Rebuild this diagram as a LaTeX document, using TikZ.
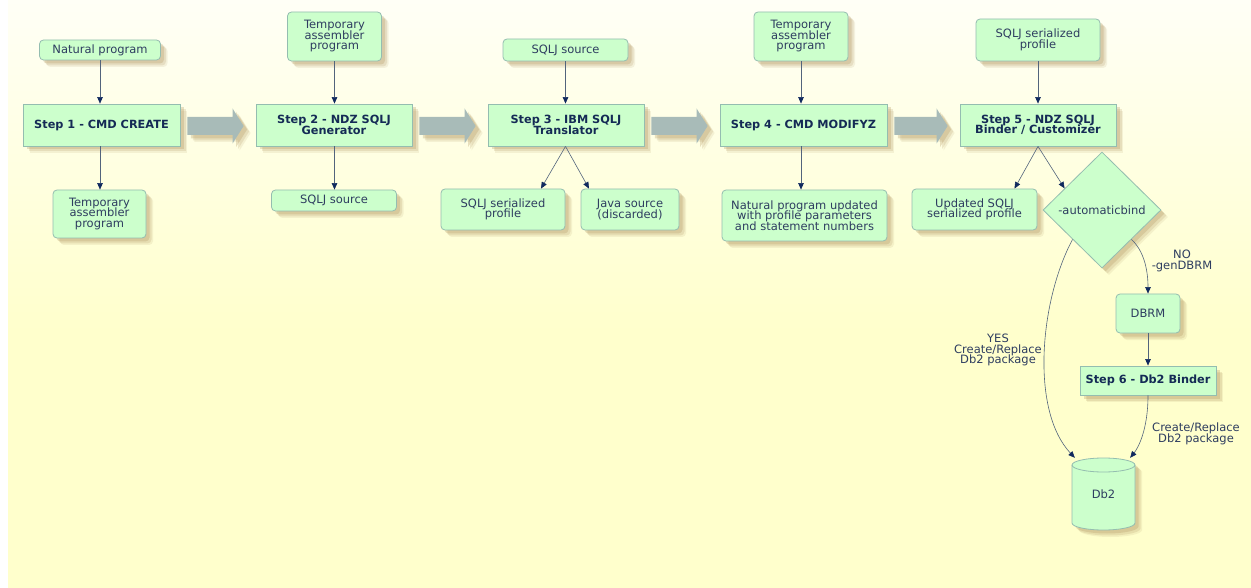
\documentclass[tikz,border=0pt]{standalone}
\usepackage{fontspec}
\setmainfont{DejaVu Sans}
\usetikzlibrary{shapes.geometric,shadows,calc,arrows.meta}
\setlength{\lineskiplimit}{-20pt}
\setlength{\lineskip}{0pt}

\definecolor{boxfill}{HTML}{CCFFCC}
\definecolor{boxdraw}{HTML}{94BDB0}
\definecolor{txt}{HTML}{2E3D60}
\definecolor{stxt}{HTML}{142A55}
\definecolor{lin}{HTML}{52647C}
\definecolor{tipc}{HTML}{10295E}
\definecolor{bigar}{HTML}{A8BBB8}
\definecolor{shad}{HTML}{B89F6A}
\definecolor{bgtop}{HTML}{FFFFF6}
\definecolor{bgbot}{HTML}{FFFFCC}

\newcommand\bigarrow[2]{%
  \path[fill=bigar,shd] let \p1=($(#1.east)+(7,-1)$), \p2=($(#2.west)+(-12,-1)$) in
    (\x1,\y1+9pt) -- (\x2-11pt,\y1+9pt) -- (\x2-11pt,\y1+17.5pt) -- (\x2,\y1)
    -- (\x2-11pt,\y1-17.5pt) -- (\x2-11pt,\y1-9pt) -- (\x1,\y1-9pt) -- cycle;}

\begin{document}
\begin{tikzpicture}[x=1pt,y=1pt,
  font=\fontsize{11.5}{10.5}\selectfont,
  shd/.style={
    drop shadow={shadow xshift=7pt,shadow yshift=-7pt,fill=shad,opacity=0.14},
    drop shadow={shadow xshift=5.5pt,shadow yshift=-5.5pt,fill=shad,opacity=0.22},
    drop shadow={shadow xshift=3.5pt,shadow yshift=-3.5pt,fill=shad,opacity=0.32}},
  base/.style={fill=boxfill,draw=boxdraw,line width=0.8pt,align=center,text=txt,inner sep=0pt,shd},
  stepbox/.style={base,font=\fontsize{11.3}{10.5}\selectfont\bfseries,text=stxt},
  iobox/.style={base,rounded corners=4pt},
  conn/.style={draw=lin,line width=0.6pt,-{Triangle[length=6.5pt,width=5.5pt,color=tipc,fill=tipc]}},
  lbl/.style={text=txt,align=center,inner sep=0pt},
]
\useasboundingbox (0,0) rectangle (1251,-588);
\fill[white] (0,0) rectangle (1251,-588);
\shade[top color=bgtop,bottom color=bgbot] (8,0) rectangle (1251,-331);
\fill[bgbot] (8,-330) rectangle (1251,-588);

% Step 1
\node[stepbox,minimum width=157pt,minimum height=42pt] (s1) at (101.5,-125) {Step 1 - CMD CREATE};
\node[iobox,minimum width=121pt,minimum height=20pt] (in1) at (100,-50) {Natural program};
\node[iobox,minimum width=93pt,minimum height=48pt] (out1) at (99.5,-214) {Temporary\\assembler\\program};
% Step 2
\node[stepbox,minimum width=156pt,minimum height=42pt] (s2) at (334,-125) {Step 2 - NDZ SQLJ\\Generator};
\node[iobox,minimum width=94pt,minimum height=49pt] (in2) at (334.5,-36.5) {Temporary\\assembler\\program};
\node[iobox,minimum width=125pt,minimum height=21pt] (out2) at (334,-200.5) {SQLJ source};
% Step 3
\node[stepbox,minimum width=156pt,minimum height=42pt] (s3) at (566,-125) {Step 3 - IBM SQLJ\\Translator};
\node[iobox,minimum width=125pt,minimum height=22pt] (in3) at (565.5,-50) {SQLJ source};
\node[iobox,minimum width=124pt,minimum height=41pt] (out3a) at (503,-209.5) {SQLJ serialized\\profile};
\node[iobox,minimum width=98pt,minimum height=41pt] (out3b) at (630,-209.5) {Java source\\(discarded)};
% Step 4
\node[stepbox,minimum width=167pt,minimum height=42pt] (s4) at (803.5,-125) {Step 4 - CMD MODIFYZ};
\node[iobox,minimum width=94pt,minimum height=49pt] (in4) at (801,-36.5) {Temporary\\assembler\\program};
\node[iobox,minimum width=165pt,minimum height=51pt] (out4) at (804.5,-215.5) {Natural program updated\\with profile parameters\\and statement numbers};
% Step 5
\node[stepbox,minimum width=156pt,minimum height=42pt] (s5) at (1038,-125) {Step 5 - NDZ SQLJ\\Binder / Customizer};
\node[iobox,minimum width=124pt,minimum height=42pt] (in5) at (1038,-40) {SQLJ serialized\\profile};
\node[iobox,minimum width=125pt,minimum height=41pt] (out5) at (974.5,-209.5) {Updated SQLJ\\serialized profile};
\node[base,diamond,minimum width=118pt,minimum height=116pt] (dia) at (1102,-210) {-automaticbind};
\node[iobox,minimum width=64pt,minimum height=39pt] (dbrm) at (1148,-313.5) {DBRM};
\node[stepbox,minimum width=136pt,minimum height=29pt] (s6) at (1148,-380.5) {Step 6 - Db2 Binder};

% Db2 cylinder
\path[fill=boxfill,draw=boxdraw,line width=0.8pt,shd]
  (1072,-465) -- (1072,-523) arc[start angle=180,end angle=360,x radius=31.5,y radius=7]
  -- (1135,-465) arc[start angle=0,end angle=180,x radius=31.5,y radius=7] -- cycle;
\draw[boxdraw,line width=0.8pt] (1072,-465) arc[start angle=180,end angle=360,x radius=31.5,y radius=7];
\node[text=txt,inner sep=0pt,minimum width=63pt,minimum height=72pt] (db2) at (1103.5,-494) {Db2};

% big arrows
\bigarrow{s1}{s2}
\bigarrow{s2}{s3}
\bigarrow{s3}{s4}
\bigarrow{s4}{s5}

% connectors
\draw[conn] (in1.south) -- (in1.south |- s1.north);
\draw[conn] (in1.south |- s1.south) -- (in1.south |- out1.north);
\draw[conn] (in2.south) -- (in2.south |- s2.north);
\draw[conn] (in2.south |- s2.south) -- (in2.south |- out2.north);
\draw[conn] (in3.south) -- (in3.south |- s3.north);
\draw[conn] (in3.south |- s3.south) -- ($(out3a.north)+(38,0)$);
\draw[conn] (in3.south |- s3.south) -- ($(out3b.north)+(-41,0)$);
\draw[conn] (in4.south) -- (in4.south |- s4.north);
\draw[conn] (in4.south |- s4.south) -- (in4.south |- out4.north);
\draw[conn] (in5.south) -- (in5.south |- s5.north);
\draw[conn] (s5.south) -- ($(out5.north)+(40,0)$);
\draw[conn] (s5.south) -- (dia.150);
\draw[conn] (dia.-45) .. controls (1143,-250) and (1148,-268) .. (dbrm.north);
\draw[conn] (dbrm) -- (s6);
\draw[conn] (dia.-135) .. controls (1040,-300) and (1030,-410) .. ($(db2.north west)+(3,0)$);
\draw[conn] (s6.south) .. controls (1148,-430) and (1138,-448) .. ($(db2.north east)+(-5,0)$);

% labels
\node[lbl] (lno) at (1182,-261) {NO\\-genDBRM};
\node[lbl] (lyes) at (998,-350) {YES\\Create/Replace\\Db2 package};
\node[lbl] (lcr) at (1196,-434) {Create/Replace\\Db2 package};
\end{tikzpicture}
\end{document}
